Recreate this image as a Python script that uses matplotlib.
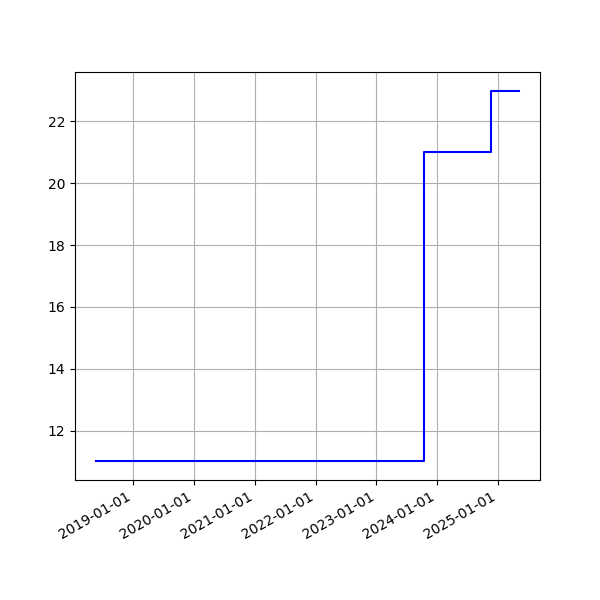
import matplotlib
matplotlib.use("Agg")
import matplotlib.pyplot as plt
import matplotlib.dates as mdates
import numpy as np

dates = np.array(["2018-05-23", "2023-10-17", "2024-11-22", "2025-05-07"], dtype="datetime64[D]")
values = [11, 21, 23, 23]

fig, ax = plt.subplots(figsize=(6, 6), dpi=100)
ax.plot(dates, values, drawstyle="steps-post", color="blue")
ax.xaxis.set_major_locator(mdates.YearLocator())
ax.xaxis.set_major_formatter(mdates.DateFormatter("%Y-%m-%d"))
ax.grid(True)
fig.autofmt_xdate()
fig.savefig("out.png", dpi=100)
